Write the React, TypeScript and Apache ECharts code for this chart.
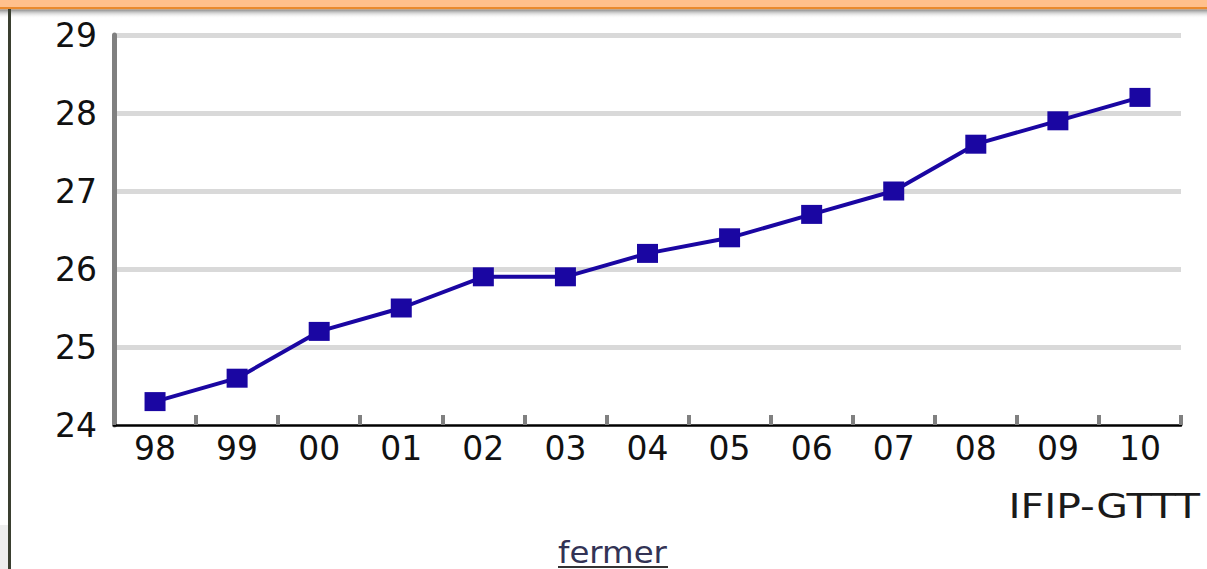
import React, { useEffect, useRef } from "react";
import * as echarts from "echarts";

const years = ["98", "99", "00", "01", "02", "03", "04", "05", "06", "07", "08", "09", "10"];
const values = [24.3, 24.6, 25.2, 25.5, 25.9, 25.9, 26.2, 26.4, 26.7, 27.0, 27.6, 27.9, 28.2];
const sourceLabel = "IFIP-GTTT";
const closeLabel = "fermer";

export default function App() {
  const ref = useRef<HTMLDivElement>(null);
  useEffect(() => {
    const chart = echarts.init(ref.current!, null, { renderer: "svg" });
    const font = "DejaVu Sans";
    chart.setOption({
      animation: false,
      backgroundColor: "#ffffff",
      grid: { left: 114, right: 26, top: 35, bottom: 144, containLabel: false },
      xAxis: {
        type: "category",
        data: years,
        boundaryGap: true,
        axisLine: { show: true, lineStyle: { color: "#000000", width: 2.5 } },
        axisTick: { show: true, inside: true, length: 10, lineStyle: { color: "#808080", width: 4 } },
        axisLabel: { color: "#111111", fontSize: 33, fontFamily: font, margin: 7 },
        splitLine: { show: false },
      },
      yAxis: {
        type: "value",
        min: 24,
        max: 29,
        interval: 1,
        axisLine: { show: true, lineStyle: { color: "#808080", width: 5 } },
        axisTick: { show: false },
        axisLabel: { color: "#111111", fontSize: 33, fontFamily: font, margin: 17 },
        splitLine: { show: true, showMinLine: false, lineStyle: { color: "#d9d9d9", width: 5 } },
      },
      series: [
        {
          type: "line",
          data: values,
          symbol: "rect",
          symbolSize: [21, 19],
          lineStyle: { color: "#1a06a2", width: 4 },
          itemStyle: { color: "#1a06a2" },
          z: 5,
        },
      ],
      graphic: [
        { type: "rect", shape: { x: 0, y: 0, width: 1207, height: 8 }, style: { fill: "#ffc08c" }, z: 10 },
        { type: "rect", shape: { x: 0, y: 7, width: 1207, height: 2.5 }, style: { fill: "#e98a2e" }, z: 10 },
        {
          type: "rect",
          shape: { x: 0, y: 9.5, width: 1207, height: 9 },
          style: {
            fill: new echarts.graphic.LinearGradient(0, 0, 0, 1, [
              { offset: 0, color: "#8a8a8a" },
              { offset: 1, color: "rgba(255,255,255,0)" },
            ]),
          },
          z: 10,
        },
        { type: "rect", shape: { x: 0, y: 525, width: 8, height: 44 }, style: { fill: "#eeeeee" }, z: 9 },
        { type: "rect", shape: { x: 8, y: 9, width: 3, height: 560 }, style: { fill: "#3a3f30" }, z: 11 },
        {
          type: "text",
          x: 1200,
          y: 506,
          scaleX: 1.24,
          style: {
            text: sourceLabel,
            fontSize: 33,
            fontFamily: font,
            fill: "#1a1a1a",
            textAlign: "right",
            textVerticalAlign: "middle",
          },
        },
        {
          type: "text",
          x: 558,
          y: 552,
          scaleX: 1.08,
          style: {
            text: closeLabel,
            fontSize: 30,
            fontFamily: font,
            fill: "#333355",
            textAlign: "left",
            textVerticalAlign: "middle",
          },
        },
        { type: "rect", shape: { x: 558, y: 566, width: 110, height: 2 }, style: { fill: "#333333" } },
      ],
    });
    return () => chart.dispose();
  }, []);
  return (
    <div
      ref={ref}
      style={{ position: "fixed", left: 0, top: 0, width: 1207, height: 569 }}
    />
  );
}
